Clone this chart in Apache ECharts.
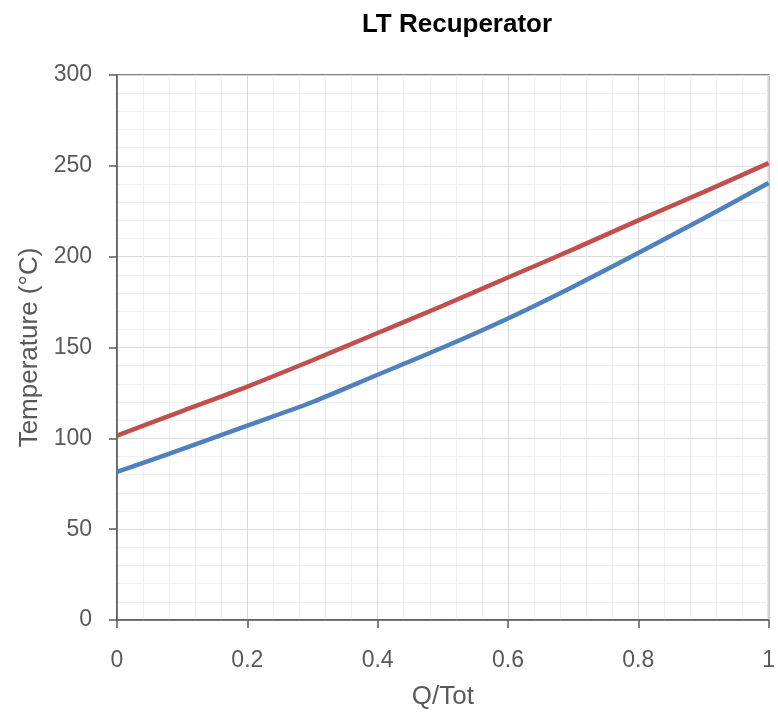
<!DOCTYPE html>
<html>
<head>
<meta charset="utf-8">
<script src="https://cdn.jsdelivr.net/npm/echarts@6/dist/echarts.min.js"></script>
<style>
  html, body { margin: 0; padding: 0; background: #fff; }
  #chart { width: 778px; height: 715px; }
</style>
</head>
<body>
<div id="chart"></div>
<script>
// Fraction of total heat duty transferred
const qFraction = [0, 0.1, 0.2, 0.3, 0.4, 0.5, 0.6, 0.7, 0.8, 0.9, 1];
// Hot-side stream temperature (°C)
const hotTemp = [101.5, 115, 128.5, 143, 158, 173, 188.5, 204, 220, 235.5, 251.5];
// Cold-side stream temperature (°C)
const coldTemp = [81.5, 94, 107, 120, 135, 150, 166, 183.5, 202, 221, 240.5];

const FONT = 'Liberation Sans';
const TEXT = '#595959';

const chart = echarts.init(document.getElementById('chart'), null, { renderer: 'canvas' });

const pairs = (xs, ys) => xs.map((x, i) => [x, ys[i]]);

chart.setOption({
  backgroundColor: '#ffffff',
  animation: false,
  title: {
    text: 'LT Recuperator',
    left: 452,
    textAlign: 'center',
    top: 7,
    textStyle: { fontFamily: FONT, fontSize: 26, fontWeight: 'bold', color: '#000' }
  },
  grid: {
    left: 117, right: 7, top: 75, bottom: 91,
    show: true, borderColor: '#595959', borderWidth: 1.5, containLabel: false
  },
  xAxis: {
    type: 'value',
    min: 0, max: 1, interval: 0.2,
    name: 'Q/Tot',
    nameLocation: 'middle',
    nameGap: 64,
    nameTextStyle: { fontFamily: FONT, fontSize: 26, color: TEXT },
    axisLine: { show: true, lineStyle: { color: '#595959', width: 1.5 } },
    axisTick: { show: true, length: 8, lineStyle: { color: '#595959', width: 1.5 } },
    axisLabel: {
      fontFamily: FONT, fontSize: 23, color: TEXT, margin: 29,
      formatter: v => String(Math.round(v * 10) / 10)
    },
    splitLine: { show: true, lineStyle: { color: '#d9d9d9', width: 1 } },
    minorTick: { show: false, splitNumber: 5 },
    minorSplitLine: { show: true, lineStyle: { color: '#f0f0f0', width: 1 } }
  },
  yAxis: {
    type: 'value',
    min: 0, max: 300, interval: 50,
    name: 'Temperature (°C)',
    nameLocation: 'middle',
    nameGap: 74,
    nameTextStyle: { fontFamily: FONT, fontSize: 26, color: TEXT },
    axisLine: { show: true, lineStyle: { color: '#595959', width: 1.5 } },
    axisTick: { show: true, length: 8, lineStyle: { color: '#595959', width: 1.5 } },
    axisLabel: { fontFamily: FONT, fontSize: 23, color: TEXT, margin: 25 },
    splitLine: { show: true, lineStyle: { color: '#d9d9d9', width: 1 } },
    minorTick: { show: false, splitNumber: 5 },
    minorSplitLine: { show: true, lineStyle: { color: '#f0f0f0', width: 1 } }
  },
  series: [
    {
      name: 'Hot',
      type: 'line',
      data: pairs(qFraction, hotTemp),
      showSymbol: false,
      smooth: 0.3,
      lineStyle: { color: '#C0504D', width: 4.5 },
      itemStyle: { color: '#C0504D' }
    },
    {
      name: 'Cold',
      type: 'line',
      data: pairs(qFraction, coldTemp),
      showSymbol: false,
      smooth: 0.3,
      lineStyle: { color: '#4F81BD', width: 4.5 },
      itemStyle: { color: '#4F81BD' }
    }
  ]
});
</script>
</body>
</html>
